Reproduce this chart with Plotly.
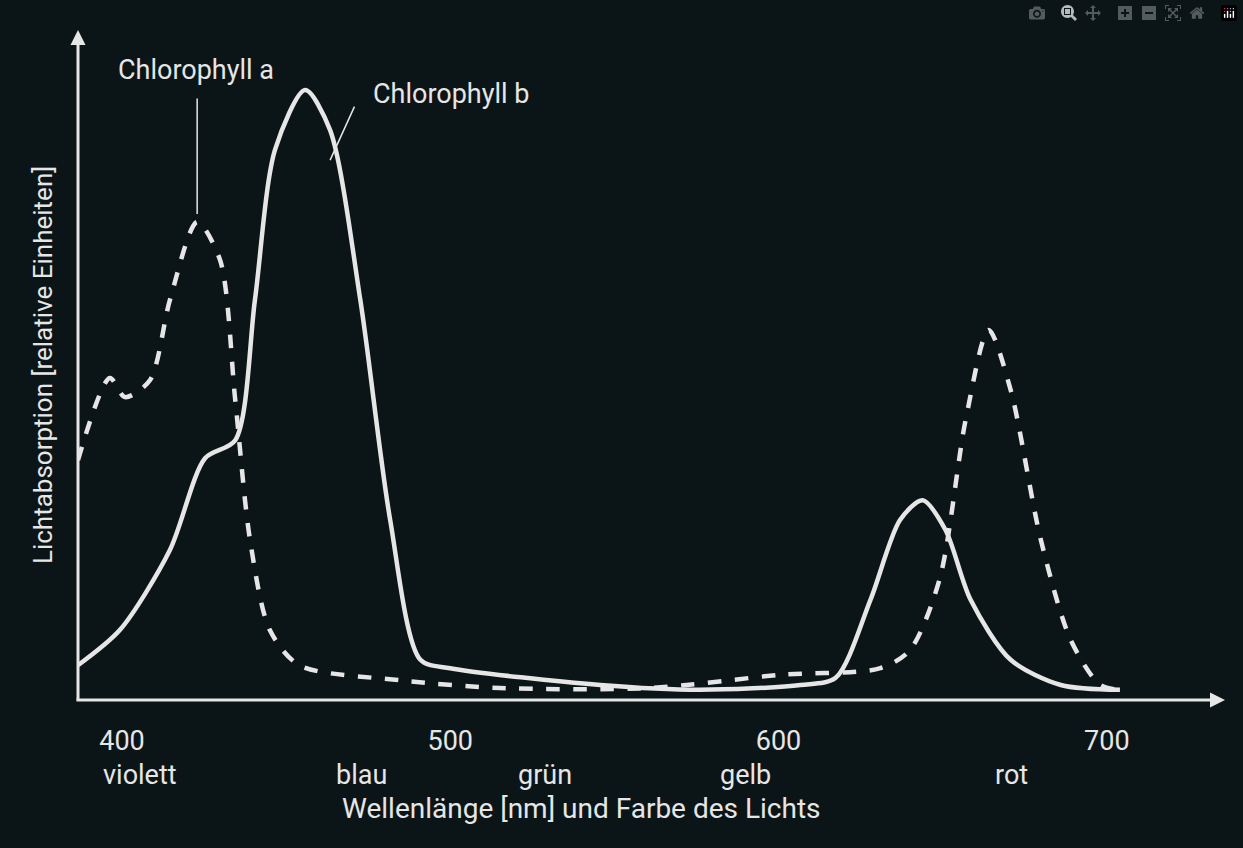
import plotly.graph_objects as go

a_x = [386.6,396.3,400.9,408.5,414.6,422.9,429.9,434.5,439,445,454,484.8,515,561,600.6,631,640,649,657,664,670.7,679.9,689,698,704]
a_y = [40,53.7,50.5,53.3,66.7,79.7,73.3,50,26.7,11.7,5.8,3.3,2,2,4.2,5.3,8.3,20,46.7,61.7,51.7,26.7,10,2.5,1.7]
b_x = [386.6,399.4,414.6,425.3,434.5,440.5,446.6,455.8,463.4,472.6,481.7,490.9,500,545.7,576,606.7,617.4,628,637,643.9,650.9,658.5,670.7,686,704]
b_y = [5.8,11.7,25,40.3,43.3,66.7,91.7,101.7,95,66.7,30,6.7,5.3,2.5,1.7,2.5,3.7,16.7,30,33.3,28.3,16.7,6.7,2.5,1.7]
tick_vals = [400,500,600,700]
color_names = ["violett","blau","grün","gelb","rot"]
color_pos = [405.5,473,529,590,671]

fg = "#e6e6e6"
bg = "#0b1517"
fig = go.Figure()
fig.add_trace(go.Scatter(x=a_x, y=a_y, mode="lines", line=dict(color=fg, width=4.5, dash="dash", shape="spline", smoothing=0.8), showlegend=False))
fig.add_trace(go.Scatter(x=b_x, y=b_y, mode="lines", line=dict(color=fg, width=4.5, shape="spline", smoothing=0.8), showlegend=False))

ann = []
for n, p in zip(color_names, color_pos):
    ann.append(dict(x=p, y=0, xref="x", yref="y", yshift=-75, text=n, showarrow=False,
                    font=dict(size=27, color=fg)))
ann.append(dict(x=0.228, y=-0.135, xref="paper", yref="paper", text="Wellenlänge [nm] und Farbe des Lichts",
                showarrow=False, font=dict(size=28, color=fg), xanchor="left", yanchor="top"))
ann.append(dict(x=0, y=1, xref="paper", yref="paper", ax=0, ay=672, axref="pixel", ayref="pixel",
                showarrow=True, arrowhead=2, arrowsize=1, arrowwidth=3, arrowcolor=fg, text=""))
ann.append(dict(x=1, y=0, xref="paper", yref="paper", ax=-1150, ay=0, showarrow=True, arrowhead=2,
                arrowsize=1, arrowwidth=3, arrowcolor=fg, text=""))
ann.append(dict(x=422.9, y=79.7, xref="x", yref="y", ax=0, ay=-125, showarrow=True, arrowhead=0,
                arrowwidth=1.5, arrowcolor=fg, standoff=8, text=""))
ann.append(dict(x=422.5, y=102, xref="x", yref="y", text="Chlorophyll a", showarrow=False,
                font=dict(size=27, color=fg), yanchor="bottom"))
ann.append(dict(x=463.4, y=90, xref="x", yref="y", ax=25, ay=-55, showarrow=True, arrowhead=0,
                arrowwidth=1.5, arrowcolor=fg, text=""))
ann.append(dict(x=476, y=101, xref="x", yref="y", text="Chlorophyll b", showarrow=False,
                font=dict(size=27, color=fg), xanchor="left"))

fig.update_layout(
    width=1243, height=848, paper_bgcolor=bg, plot_bgcolor=bg,
    margin=dict(l=78, r=18, t=30, b=148),
    font=dict(family="Roboto", color=fg),
    xaxis=dict(range=[386.6, 736], tickvals=tick_vals, ticks="", showgrid=False, zeroline=False,
               showline=False, tickfont=dict(size=27, color=fg), ticklabelstandoff=22),
    yaxis=dict(range=[0, 111.7], showticklabels=False, showgrid=False, zeroline=False, showline=False,
               title=dict(text="Lichtabsorption [relative Einheiten]", font=dict(size=26, color=fg), standoff=16)),
    annotations=ann,
)
fig.write_html("out.html", post_script="document.body.style.margin='0';document.body.style.background='%s';" % bg)
